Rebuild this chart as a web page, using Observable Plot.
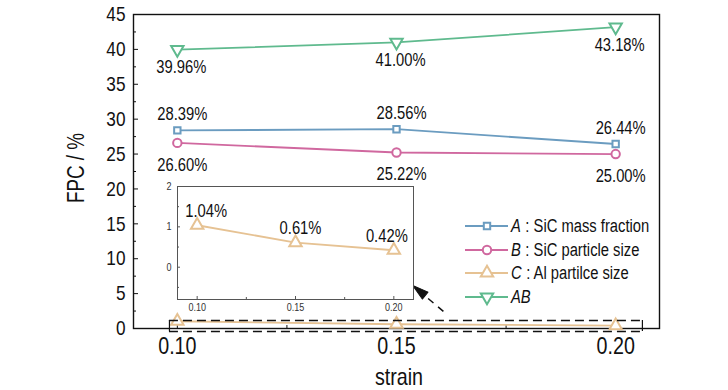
<!DOCTYPE html>
<html><head><meta charset="utf-8">
<script src="https://cdn.jsdelivr.net/npm/d3@7"></script>
<script src="https://cdn.jsdelivr.net/npm/@observablehq/plot@0.6"></script>
<style>
body{margin:0;background:#fff}
#wrap{position:relative;width:728px;height:390px;overflow:hidden;background:#fff}
#wrap > svg{position:absolute;overflow:visible}
</style></head><body><div id="wrap"></div>
<script>
const FONT = "'Liberation Sans',Arial,sans-serif";
const SQUEEZE = 0.82; // emulate a narrow sans face

// ---- data ----
const strain = [0.10, 0.15, 0.20];
const seriesKeys = ["A", "B", "C", "AB"];
const legendItalic = ["A", "B", "C", "AB"];
const legendRest = [": SiC mass fraction", ": SiC particle size", ": Al partilce size", ""];
const valuesA = [28.39, 28.56, 26.44];
const valuesB = [26.60, 25.22, 25.00];
const valuesC = [1.04, 0.61, 0.42];
const valuesAB = [39.96, 41.00, 43.18];
const colors = ["#6b9cc0", "#d0689f", "#e6c293", "#5fba8e"];
const yTicks = [0, 5, 10, 15, 20, 25, 30, 35, 40, 45];
const yMinor = [2.5, 7.5, 12.5, 17.5, 22.5, 27.5, 32.5, 37.5, 42.5];
const xTicks = [0.10, 0.15, 0.20];
const xMinor = [0.125, 0.175];
const insetYTicks = [0, 1, 2];
const insetYMinor = [-0.5, 0.5, 1.5];
// zoom box (data units) and arrow (data units)
const zoomBoxX = [0.0982, 0.2061];
const zoomBoxY = [-0.43, 1.15];
const arrowTail = {x: 0.1607, y: 2.45};
const arrowTip = {x: 0.1537, y: 6.16};

const allValues = {A: valuesA, B: valuesB, C: valuesC, AB: valuesAB};
const rows = seriesKeys.flatMap(s => strain.map((x, i) => ({series: s, strain: x, value: allValues[s][i]})));
const colorOf = Object.fromEntries(seriesKeys.map((s, i) => [s, colors[i]]));
const fmt = v => d3.format(".2f")(v) + "%";

// custom down-pointing triangle
const triDown = {
  draw(ctx, size) {
    const y = -Math.sqrt(size / (Math.sqrt(3) * 3));
    ctx.moveTo(0, -y * 2);
    ctx.lineTo(-Math.sqrt(3) * y, y);
    ctx.lineTo(Math.sqrt(3) * y, y);
    ctx.closePath();
  }
};
const symbolOf = {A: "square", B: "circle", C: "triangle", AB: triDown};
const rOf = {A: 3.6, B: 4.2, C: 4.6, AB: 4.6};
// filled arrow head shape
const headShape = {
  draw(ctx, l, r) {
    ctx.moveTo(0, -l);
    ctx.lineTo(-4.5, 0);
    ctx.lineTo(4.5, 0);
    ctx.closePath();
  }
};

const wrap = document.getElementById("wrap");

const seriesMarks = (data) => seriesKeys.filter(s => data.some(d => d.series === s)).flatMap(s => {
  const d = data.filter(r => r.series === s);
  return [
    Plot.line(d, {x: "strain", y: "value", stroke: colorOf[s], strokeWidth: 1.8}),
    Plot.dot(d, {x: "strain", y: "value", stroke: colorOf[s], fill: "white", strokeWidth: 2, symbol: symbolOf[s], r: rOf[s]})
  ];
});

const main = Plot.plot({
  width: 728, height: 390,
  marginLeft: 133, marginRight: 69, marginTop: 14, marginBottom: 62,
  x: {domain: [0.09, 0.21]},
  y: {domain: [0, 45]},
  style: {fontFamily: FONT, background: "white", color: "#111"},
  marks: [
    Plot.axisY({ticks: yTicks, tickSize: 0, tickPadding: 8, fontSize: 21, label: null, fill: "#111"}),
    Plot.axisY({ticks: yTicks, tickSize: -5, fill: "none", label: null, stroke: "#111"}),
    Plot.axisY({ticks: yMinor, tickSize: -3, fill: "none", label: null, stroke: "#111"}),
    Plot.axisX({ticks: xTicks, tickSize: 0, tickPadding: 8, fontSize: 24, tickFormat: d3.format(".2f"), label: null, fill: "#111"}),
    Plot.axisX({ticks: xTicks, tickSize: -5, fill: "none", label: null, stroke: "#111"}),
    Plot.axisX({ticks: xMinor, tickSize: -3, fill: "none", label: null, stroke: "#111"}),
    Plot.frame({stroke: "#111", strokeWidth: 1.4}),
    ...seriesMarks(rows),
    Plot.text(rows.filter(d => d.series === "A"), {x: "strain", y: "value", text: d => fmt(d.value), dy: -16, dx: 5, fontSize: 18, fill: "#111"}),
    Plot.text(rows.filter(d => d.series === "B"), {x: "strain", y: "value", text: d => fmt(d.value), dy: 22, dx: 5, fontSize: 18, fill: "#111"}),
    Plot.text(rows.filter(d => d.series === "AB"), {x: "strain", y: "value", text: d => fmt(d.value), dy: 18, dx: 4, fontSize: 18, fill: "#111"}),
    Plot.ruleY(zoomBoxY, {x1: zoomBoxX[0], x2: zoomBoxX[1], stroke: "#111", strokeWidth: 1.5, strokeDasharray: "9,5"}),
    Plot.ruleX(zoomBoxX, {y1: zoomBoxY[0], y2: zoomBoxY[1], stroke: "#111", strokeWidth: 1.2}),
    Plot.link([arrowTail], {x1: "x", y1: "y", x2: () => arrowTip.x, y2: () => arrowTip.y, stroke: "#111", strokeWidth: 1.5, strokeDasharray: "7,6"}),
    Plot.vector([arrowTip], {x: "x", y: "y", length: 16, rotate: -51, anchor: "end", shape: headShape, fill: "#111", stroke: "#111", strokeWidth: 1})
  ]
});
main.style.left = "0px"; main.style.top = "0px";
wrap.appendChild(main);

// inset
const insetRows = rows.filter(d => d.series === "C");
const insetLabelDx = [9, 5, -7];
const inset = Plot.plot({
  width: 278, height: 147,
  marginLeft: 30, marginRight: 12, marginTop: 12, marginBottom: 22,
  x: {domain: [0.09, 0.21]},
  y: {domain: [-0.8, 2]},
  style: {fontFamily: FONT, background: "transparent", color: "#333"},
  marks: [
    Plot.frame({fill: "white", stroke: "none"}),
    Plot.axisY({ticks: insetYTicks, tickSize: 0, tickPadding: 6, fontSize: 11, tickFormat: d3.format("d"), label: null, fill: "#333"}),
    Plot.axisY({ticks: insetYTicks, tickSize: -3, fill: "none", label: null, stroke: "#555"}),
    Plot.axisY({ticks: insetYMinor, tickSize: -2, fill: "none", label: null, stroke: "#555"}),
    Plot.axisX({ticks: xTicks, tickSize: 0, tickPadding: 4, fontSize: 11, tickFormat: d3.format(".2f"), label: null, fill: "#333"}),
    Plot.axisX({ticks: xTicks, tickSize: -3, fill: "none", label: null, stroke: "#555"}),
    Plot.axisX({ticks: xMinor, tickSize: -2, fill: "none", label: null, stroke: "#555"}),
    Plot.frame({stroke: "#555", strokeWidth: 1}),
    ...seriesMarks(insetRows),
    ...insetRows.map((r, i) => Plot.text([r], {x: "strain", y: "value", text: d => fmt(d.value), dy: -14, dx: insetLabelDx[i], fontSize: 18, fill: "#111"}))
  ]
});
inset.style.left = "147px"; inset.style.top = "174px";
wrap.appendChild(inset);

// overlay: axis titles and legend
const ov = d3.select(wrap).append("svg").attr("width", 728).attr("height", 390)
  .style("left", "0px").style("top", "0px").style("pointer-events", "none")
  .attr("font-family", FONT);
ov.append("text").attr("transform", "translate(84,168) rotate(-90)").attr("text-anchor", "middle")
  .attr("font-size", 23).attr("fill", "#111").text("FPC / %");
ov.append("text").attr("x", 399).attr("y", 385).attr("text-anchor", "middle")
  .attr("font-size", 24).attr("fill", "#111").text("strain");

function squeeze(t) {
  const L = t.getComputedTextLength();
  if (L > 0) {
    t.setAttribute("textLength", (L * SQUEEZE).toFixed(2));
    t.setAttribute("lengthAdjust", "spacingAndGlyphs");
  }
  return L * SQUEEZE;
}

// condense all text horizontally to mimic the narrow face of the reference
wrap.querySelectorAll("svg text").forEach(squeeze);

const legendY = [226, 250, 273, 297];
seriesKeys.forEach((s, i) => {
  const g = ov.append("g").attr("transform", `translate(0,${legendY[i]})`);
  g.append("line").attr("x1", 465).attr("x2", 508).attr("stroke", colors[i]).attr("stroke-width", 1.8);
  const sym = symbolOf[s];
  const size = Math.PI * rOf[s] * rOf[s];
  const symType = sym === "square" ? d3.symbolSquare : sym === "circle" ? d3.symbolCircle : sym === "triangle" ? d3.symbolTriangle : sym;
  g.append("path").attr("transform", "translate(487,0)").attr("d", d3.symbol(symType, size)())
    .attr("fill", "white").attr("stroke", colors[i]).attr("stroke-width", 2);
  const t1 = g.append("text").attr("x", 511).attr("dy", "0.35em").attr("font-size", 18).attr("fill", "#111")
    .attr("font-style", "italic").text(legendItalic[i]);
  const w = squeeze(t1.node());
  if (legendRest[i]) {
    const t2 = g.append("text").attr("x", 511 + w + 4.5).attr("dy", "0.35em").attr("font-size", 18).attr("fill", "#111")
      .text(legendRest[i]);
    squeeze(t2.node());
  }
});
</script></body></html>
